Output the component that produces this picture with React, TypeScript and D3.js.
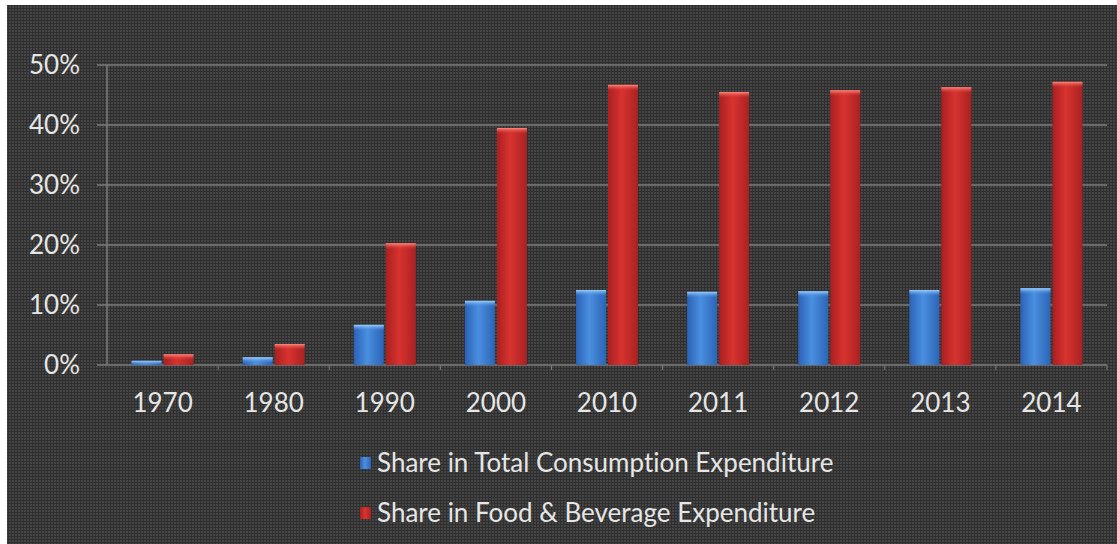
import React from "react";
import * as d3 from "d3";

const years = ["1970", "1980", "1990", "2000", "2010", "2011", "2012", "2013", "2014"];
const totalShare = [0.7, 1.3, 6.7, 10.7, 12.5, 12.2, 12.3, 12.5, 12.8];
const foodShare = [1.8, 3.5, 20.3, 39.5, 46.7, 45.5, 45.8, 46.3, 47.2];
const yTicks = [0, 10, 20, 30, 40, 50];
const seriesNames = ["Share in Total Consumption Expenditure", "Share in Food & Beverage Expenditure"];

const W = 1117, H = 544;
const plot = { left: 107, right: 1107, top: 65, bottom: 365 };
const FONT = "Lato, 'Open Sans', sans-serif";
const FS = 26;
const textStyle = { fontVariantLigatures: "none" } as React.CSSProperties;

export default function App() {
  const x = d3.scaleBand<string>().domain(years).range([plot.left, plot.right]).paddingInner(0).paddingOuter(0);
  const y = d3.scaleLinear().domain([0, 50]).range([plot.bottom, plot.top]);
  const barW = 30;
  const gap = 2;
  const series = [
    { name: seriesNames[0], values: totalShare, grad: "gBlue", off: -barW - gap / 2 },
    { name: seriesNames[1], values: foodShare, grad: "gRed", off: gap / 2 },
  ];
  return (
    <svg width={W} height={H} style={{ position: "absolute", left: 0, top: 0 }}>
      <defs>
        <pattern id="bgp" width="3" height="3" patternUnits="userSpaceOnUse">
          <rect width="3" height="3" fill="#2f2f2f" />
          <rect x="0" y="0" width="2" height="2" fill="#454545" />
        </pattern>
        <linearGradient id="gBlue" x1="0" x2="1" y1="0" y2="0">
          <stop offset="0" stopColor="#2a62b8" />
          <stop offset="0.45" stopColor="#4a8fe0" />
          <stop offset="1" stopColor="#2c64b5" />
        </linearGradient>
        <linearGradient id="gRed" x1="0" x2="1" y1="0" y2="0">
          <stop offset="0" stopColor="#a82020" />
          <stop offset="0.45" stopColor="#d8332f" />
          <stop offset="1" stopColor="#a82222" />
        </linearGradient>
        <linearGradient id="capBlue" x1="0" x2="0" y1="0" y2="1">
          <stop offset="0" stopColor="#9fd0ff" />
          <stop offset="1" stopColor="#4a8fe0" stopOpacity="0" />
        </linearGradient>
        <linearGradient id="capRed" x1="0" x2="0" y1="0" y2="1">
          <stop offset="0" stopColor="#ff8a80" />
          <stop offset="1" stopColor="#d8332f" stopOpacity="0" />
        </linearGradient>
      </defs>
      <rect x={0} y={0} width={W} height={H} fill="#ffffff" />
      <rect x={7} y={5} width={W - 7} height={H - 5} fill="url(#bgp)" />

      {yTicks.map((t) => (
        <g key={t}>
          <line x1={plot.left - 10} x2={plot.right} y1={y(t)} y2={y(t)} stroke="#7c7c7c" strokeWidth={1.5} />
          <text x={80} y={y(t)} dy="0.35em" textAnchor="end" fill="#e6e6e6" fontFamily={FONT} fontSize={FS} style={textStyle}>
            {t}%
          </text>
        </g>
      ))}
      <line x1={plot.left} x2={plot.left} y1={plot.top} y2={plot.bottom} stroke="#7c7c7c" strokeWidth={1.5} />
      {years.map((yr) => (
        <line key={"tk" + yr} x1={(x(yr) as number) + x.bandwidth()} x2={(x(yr) as number) + x.bandwidth()} y1={plot.bottom} y2={plot.bottom + 5} stroke="#7c7c7c" />
      ))}

      {series.map((s) =>
        years.map((yr, i) => {
          const cx = (x(yr) as number) + x.bandwidth() / 2;
          const bx = cx + s.off;
          const top = y(s.values[i]);
          const h = plot.bottom - top;
          return (
            <g key={s.name + yr}>
              <rect x={bx} y={top} width={barW} height={h} fill={`url(#${s.grad})`} />
              <rect x={bx} y={top} width={barW} height={Math.min(6, h)} fill={s.grad === "gBlue" ? "url(#capBlue)" : "url(#capRed)"} />
            </g>
          );
        })
      )}

      {years.map((yr) => (
        <text key={"xl" + yr} x={(x(yr) as number) + x.bandwidth() / 2} y={403} dy="0.35em" textAnchor="middle" fill="#e6e6e6" fontFamily={FONT} fontSize={FS} style={textStyle}>
          {yr}
        </text>
      ))}

      {series.map((s, i) => (
        <g key={"lg" + i} transform={`translate(360, ${463 + i * 50})`}>
          <rect x={0} y={-6} width={11} height={12} fill={`url(#${s.grad})`} />
          <text x={17} y={0} dy="0.35em" fill="#e6e6e6" fontFamily={FONT} fontSize={FS} style={textStyle}>
            {s.name}
          </text>
        </g>
      ))}
    </svg>
  );
}
